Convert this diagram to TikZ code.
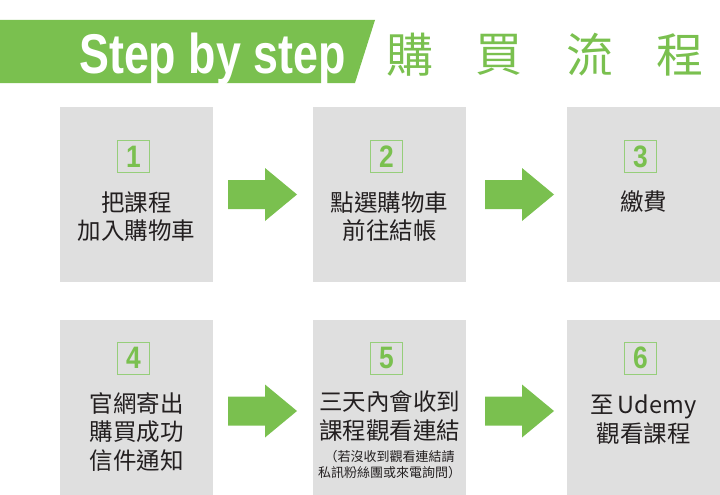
\documentclass[tikz,border=0pt]{standalone}
\usepackage{fontspec}
\setmainfont{Liberation Sans}
\newfontfamily\cjk{Noto Sans CJK TC}
\definecolor{grn}{RGB}{122,192,79}
\definecolor{grnl}{RGB}{150,206,122}
\definecolor{boxgray}{RGB}{223,223,223}
\definecolor{txt}{RGB}{35,31,32}
\begin{document}
\begin{tikzpicture}[x=1pt,y=-1pt,
  panel/.style={fill=boxgray,draw=none,minimum width=153pt,minimum height=175pt,inner sep=0pt,anchor=north west},
  numbox/.style={draw=grnl,line width=0.9pt,minimum size=32pt,inner sep=0pt,text=grn,font=\fontsize{31}{31}\selectfont\bfseries},
  body/.style={text=txt,font=\cjk\fontsize{23.5}{28.5}\selectfont,align=center,inner sep=0pt},
  note/.style={text=txt,font=\cjk\fontsize{13}{16}\selectfont,align=center,inner sep=0pt},
  titlechar/.style={text=grn,font=\cjk\fontsize{47}{47}\selectfont,inner sep=0pt},
  garrow/.style={fill=grn,draw=none}]
\useasboundingbox (0,0) rectangle (720,495);
% banner
\fill[grn] (0,20) -- (375,20) -- (355,83) -- (0,83) -- cycle;
\node[anchor=base west,inner sep=0pt,text=white,font=\fontsize{56}{56}\selectfont\bfseries] (steptxt) at (79,74) {\scalebox{0.80}[1]{Step by step}};
\node[titlechar] (t1) at (410,55) {購};
\node[titlechar] (t2) at (499,55) {買};
\node[titlechar] (t3) at (590,55) {流};
\node[titlechar] (t4) at (680,55) {程};
% panels
\node[panel] (p1) at (60,107) {};
\node[panel] (p2) at (313,107) {};
\node[panel] (p3) at (567,107) {};
\node[panel] (p4) at (60,320) {};
\node[panel] (p5) at (313,320) {};
\node[panel] (p6) at (567,320) {};
% number boxes
\node[numbox] (n1) at (133.5,156.5) {\scalebox{0.85}[1]{1}};
\node[numbox] (n2) at (386.5,156.5) {\scalebox{0.85}[1]{2}};
\node[numbox] (n3) at (640.5,156.5) {\scalebox{0.85}[1]{3}};
\node[numbox] (n4) at (133.5,358) {\scalebox{0.85}[1]{4}};
\node[numbox] (n5) at (386.5,358) {\scalebox{0.85}[1]{5}};
\node[numbox] (n6) at (640.5,358) {\scalebox{0.85}[1]{6}};
% texts
\node[body] (b1) at (136.5,216.5) {把課程\\加入購物車};
\node[body] (b2) at (389.5,216.5) {點選購物車\\前往結帳};
\node[body] (b3) at (643.5,202) {繳費};
\node[body] (b4) at (136.5,432) {官網寄出\\購買成功\\信件通知};
\node[body] (b5) at (389.5,416) {三天內會收到\\課程觀看連結};
\node[note] (b5n) at (389.5,465) {（若沒收到觀看連結請\\私訊粉絲團或來電詢問）};
\node[body] (b6) at (643.5,419.5) {至\,Udemy\\觀看課程};
% arrows
\foreach \ax/\ay in {228/194.5, 485/194.5, 228/411, 485/411}{
  \fill[garrow] (\ax,\ay-14.5) -- (\ax+37,\ay-14.5) -- (\ax+37,\ay-26.5) -- (\ax+69,\ay) -- (\ax+37,\ay+26.5) -- (\ax+37,\ay+14.5) -- (\ax,\ay+14.5) -- cycle;
}
\end{tikzpicture}
\end{document}
